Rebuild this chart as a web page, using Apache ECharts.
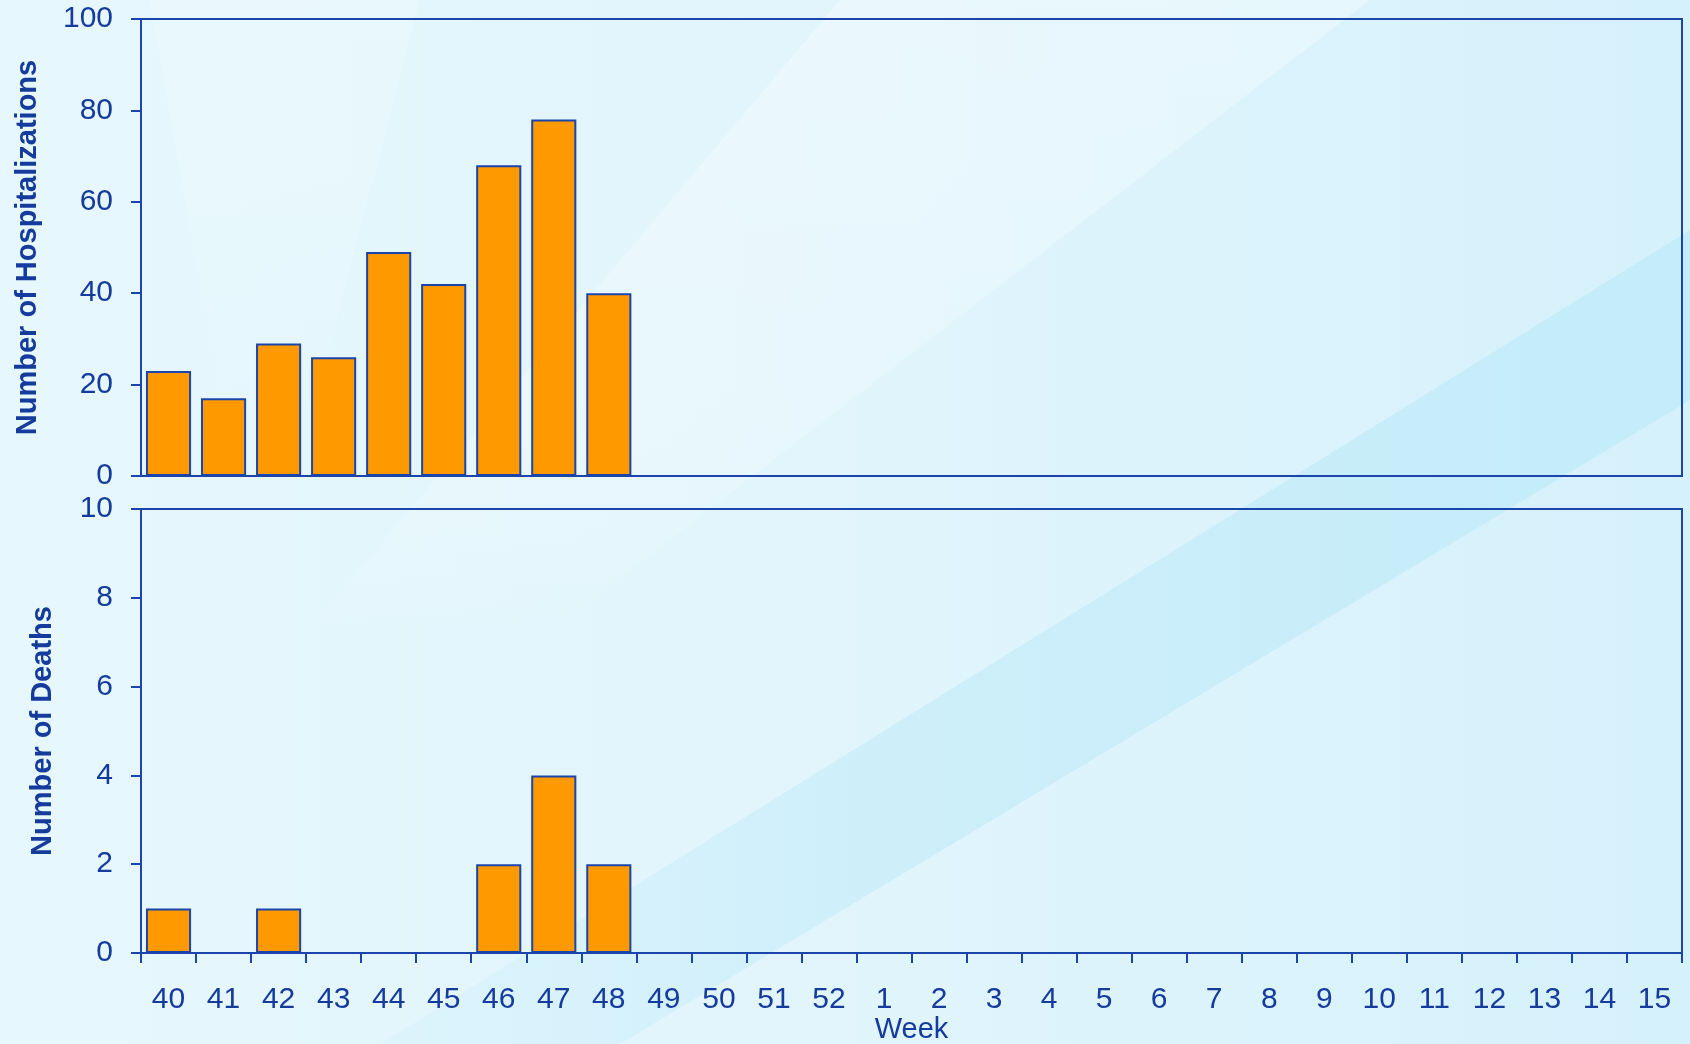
<!DOCTYPE html>
<html>
<head>
<meta charset="utf-8">
<script src="https://cdn.jsdelivr.net/npm/echarts@6/dist/echarts.min.js"></script>
<style>
  html, body { margin: 0; padding: 0; }
  #chart { width: 1690px; height: 1044px; }
</style>
</head>
<body>
<div id="chart"></div>
<script>
// Surveillance weeks (season runs from week 40 to week 15 of the next year)
const weeks = ['40','41','42','43','44','45','46','47','48','49','50','51','52',
               '1','2','3','4','5','6','7','8','9','10','11','12','13','14','15'];

// Weekly counts reported so far
const hospitalizations = [23, 17, 29, 26, 49, 42, 68, 78, 40];
const deaths = [1, 0, 1, 0, 0, 0, 2, 4, 2];

const hospTicks = { min: 0, max: 100, interval: 20 };
const deathTicks = { min: 0, max: 10, interval: 2 };

const AXIS_BLUE = '#1c45ac';
const TEXT_BLUE = '#153b9d';
const BAR_ORANGE = '#ff9900';
const FONT = '"Liberation Sans", Arial, sans-serif';

const chart = echarts.init(document.getElementById('chart'));

const yAxisCommon = {
  type: 'value',
  axisLine: { show: true, lineStyle: { color: AXIS_BLUE, width: 2 } },
  axisTick: { show: true, inside: false, length: 10, lineStyle: { color: AXIS_BLUE, width: 2 } },
  axisLabel: { color: TEXT_BLUE, fontSize: 30, fontFamily: FONT, margin: 28 },
  splitLine: { show: false },
  nameLocation: 'middle',
  nameRotate: 90,
  nameTextStyle: { color: TEXT_BLUE, fontSize: 29, fontWeight: 'bold', fontFamily: FONT }
};

const barStyle = {
  color: BAR_ORANGE,
  borderColor: AXIS_BLUE,
  borderWidth: 2
};

chart.setOption({
  animation: false,
  backgroundColor: {
    type: 'linear', x: 0, y: 0, x2: 1, y2: 0,
    colorStops: [
      { offset: 0, color: '#e6f7fd' },
      { offset: 0.45, color: '#e2f5fc' },
      { offset: 1, color: '#d5f1fb' }
    ]
  },
  graphic: [
    // soft pale streak running down-left from the top edge, fading out
    {
      type: 'polygon', z: -10, silent: true,
      shape: { points: [[840, 0], [1370, 0], [540, 640], [300, 640]] },
      style: {
        fill: {
          type: 'linear', x: 0, y: 0, x2: 0, y2: 1,
          colorStops: [
            { offset: 0, color: 'rgba(255,255,255,0.32)' },
            { offset: 0.7, color: 'rgba(255,255,255,0.18)' },
            { offset: 1, color: 'rgba(255,255,255,0)' }
          ]
        }
      }
    },
    {
      type: 'polygon', z: -10, silent: true,
      shape: { points: [[150, 0], [420, 0], [300, 460], [230, 460]] },
      style: {
        fill: {
          type: 'linear', x: 0, y: 0, x2: 0, y2: 1,
          colorStops: [
            { offset: 0, color: 'rgba(255,255,255,0.18)' },
            { offset: 1, color: 'rgba(255,255,255,0)' }
          ]
        }
      }
    },
    // cyan sweep rising towards the right edge
    {
      type: 'polygon', z: -10, silent: true,
      shape: { points: [[1690, 230], [1690, 400], [620, 1044], [380, 1044]] },
      style: {
        fill: {
          type: 'linear', x: 0, y: 0, x2: 1, y2: 0,
          colorStops: [
            { offset: 0, color: 'rgba(170,228,247,0.12)' },
            { offset: 0.4, color: 'rgba(170,228,247,0.35)' },
            { offset: 1, color: 'rgba(170,228,247,0.4)' }
          ]
        }
      }
    }
  ],
  grid: [
    { left: 141, top: 19, width: 1541, height: 457, show: true, borderColor: AXIS_BLUE, borderWidth: 2,
      backgroundColor: 'transparent', outerBoundsMode: 'none', containLabel: false },
    { left: 141, top: 509, width: 1541, height: 444, show: true, borderColor: AXIS_BLUE, borderWidth: 2,
      backgroundColor: 'transparent', outerBoundsMode: 'none', containLabel: false }
  ],
  xAxis: [
    {
      type: 'category', gridIndex: 0, data: weeks,
      axisLine: { show: true, lineStyle: { color: AXIS_BLUE, width: 2 } },
      axisTick: { show: false },
      axisLabel: { show: false },
      splitLine: { show: false }
    },
    {
      type: 'category', gridIndex: 1, data: weeks,
      name: 'Week', nameLocation: 'middle', nameGap: 61,
      nameTextStyle: { color: TEXT_BLUE, fontSize: 29, fontFamily: FONT },
      axisLine: { show: true, lineStyle: { color: AXIS_BLUE, width: 2 } },
      axisTick: { show: true, interval: 0, length: 10, lineStyle: { color: AXIS_BLUE, width: 2 } },
      axisLabel: { interval: 0, color: TEXT_BLUE, fontSize: 30, fontFamily: FONT, margin: 32 },
      splitLine: { show: false }
    }
  ],
  yAxis: [
    Object.assign({}, yAxisCommon, hospTicks, { gridIndex: 0, name: 'Number of Hospitalizations', nameGap: 99 }),
    Object.assign({}, yAxisCommon, deathTicks, { gridIndex: 1, name: 'Number of Deaths', nameGap: 84 })
  ],
  series: [
    {
      type: 'bar', xAxisIndex: 0, yAxisIndex: 0,
      data: hospitalizations, barCategoryGap: '18%',
      itemStyle: barStyle
    },
    {
      type: 'bar', xAxisIndex: 1, yAxisIndex: 1,
      data: deaths, barCategoryGap: '18%',
      itemStyle: barStyle
    }
  ]
});
</script>
</body>
</html>
